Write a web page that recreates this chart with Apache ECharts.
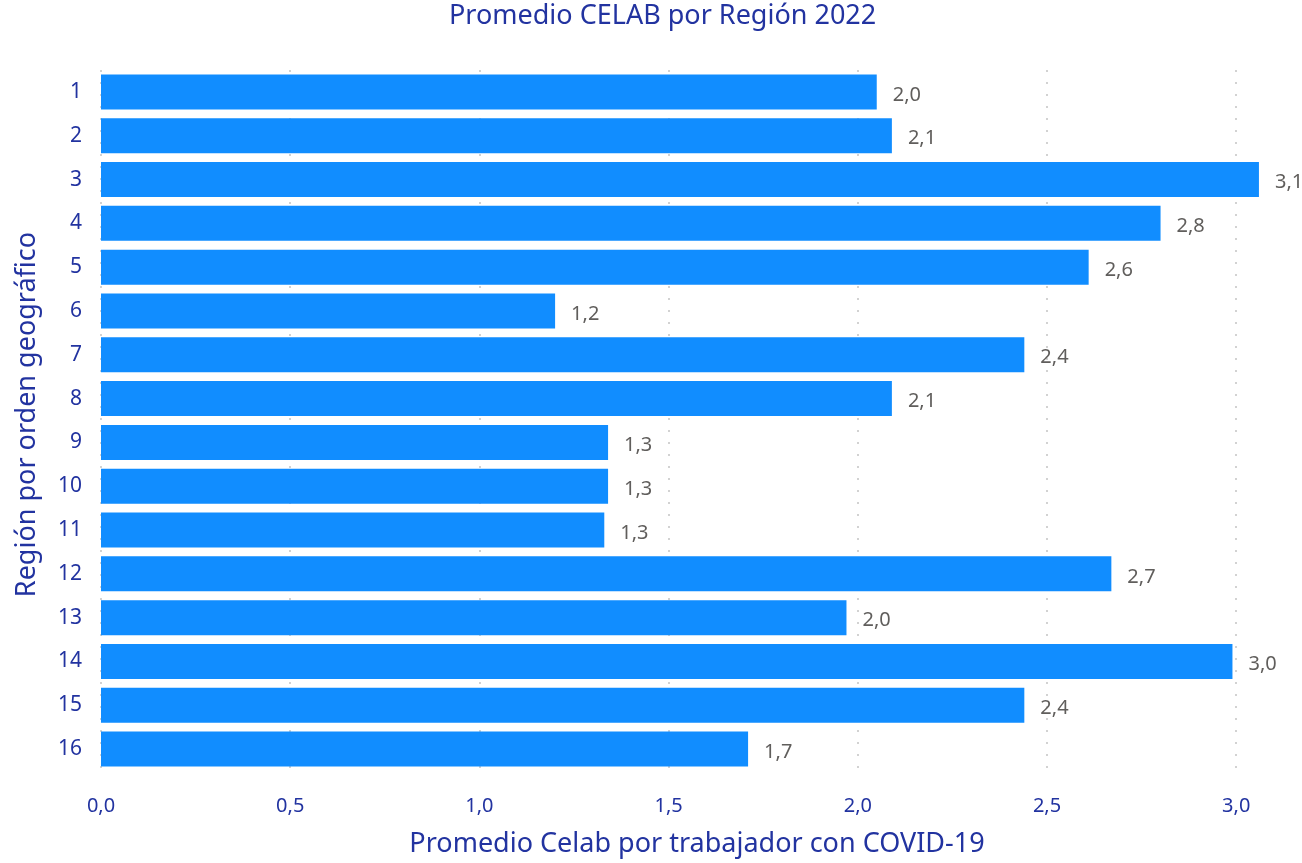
<!DOCTYPE html>
<html>
<head>
<meta charset="utf-8">
<script src="https://cdn.jsdelivr.net/npm/echarts@6/dist/echarts.min.js"></script>
<style>
  html, body { margin: 0; padding: 0; background: #fff; }
  #main { width: 1302px; height: 863px; }
</style>
</head>
<body>
<div id="main"></div>
<script>
// datos
const regiones = ['1', '2', '3', '4', '5', '6', '7', '8', '9', '10', '11', '12', '13', '14', '15', '16'];
const promedios = [2.05, 2.09, 3.06, 2.80, 2.61, 1.20, 2.44, 2.09, 1.34, 1.34, 1.33, 2.67, 1.97, 2.99, 2.44, 1.71];
const ticksX = [0, 0.5, 1, 1.5, 2, 2.5, 3];

const azul = '#2233A0';
const fuente = '"Noto Sans", sans-serif';

function coma(v, dec) {
	return v.toFixed(dec).replace('.', ',');
}

const chart = echarts.init(document.getElementById('main'), null, { renderer: 'canvas' });

let option = {
	animation: false,
	textStyle: { fontFamily: fuente },
	title: {
		text: 'Promedio CELAB por Región 2022',
		left: 449,
		top: 3,
		padding: 0,
		textStyle: { color: azul, fontSize: 27, fontWeight: 'normal', fontFamily: fuente }
	},
	grid: {
		left: 101,
		right: 9,
		top: 70,
		height: 705,
		containLabel: false
	},
	xAxis: {
		type: 'value',
		min: 0,
		max: 3.15,
		interval: 0.5,
		name: 'Promedio Celab por trabajador con COVID-19',
		nameLocation: 'middle',
		nameGap: 60,
		nameTextStyle: { color: azul, fontSize: 27, fontFamily: fuente },
		axisLine: { show: false },
		axisTick: { show: false },
		axisLabel: {
			color: azul,
			fontSize: 20,
			margin: 25,
			showMaxLabel: false,
			formatter: function (v) {
				return ticksX.indexOf(v) >= 0 ? coma(v, 1) : '';
			}
		},
		splitLine: {
			show: true,
			showMaxLine: false,
			lineStyle: { color: '#c4c4c4', type: [2, 10], width: 1.5 }
		}
	},
	yAxis: {
		type: 'category',
		data: regiones,
		inverse: true,
		name: 'Región por orden geográfico',
		nameLocation: 'middle',
		nameGap: 60,
		nameTextStyle: { color: azul, fontSize: 27, fontFamily: fuente, padding: [0, 0, 0, 12] },
		axisLine: { show: false },
		axisTick: { show: false },
		axisLabel: { color: azul, fontSize: 21, margin: 19 }
	},
	series: [{
		type: 'bar',
		data: promedios,
		barWidth: '80%',
		itemStyle: { color: '#118DFF' },
		label: {
			show: true,
			position: 'right',
			distance: 16,
			offset: [0, 3],
			color: '#605E5C',
			fontSize: 20,
			formatter: function (p) {
				return coma(p.value, 1);
			}
		}
	}]
};

chart.setOption(option);
</script>
</body>
</html>
